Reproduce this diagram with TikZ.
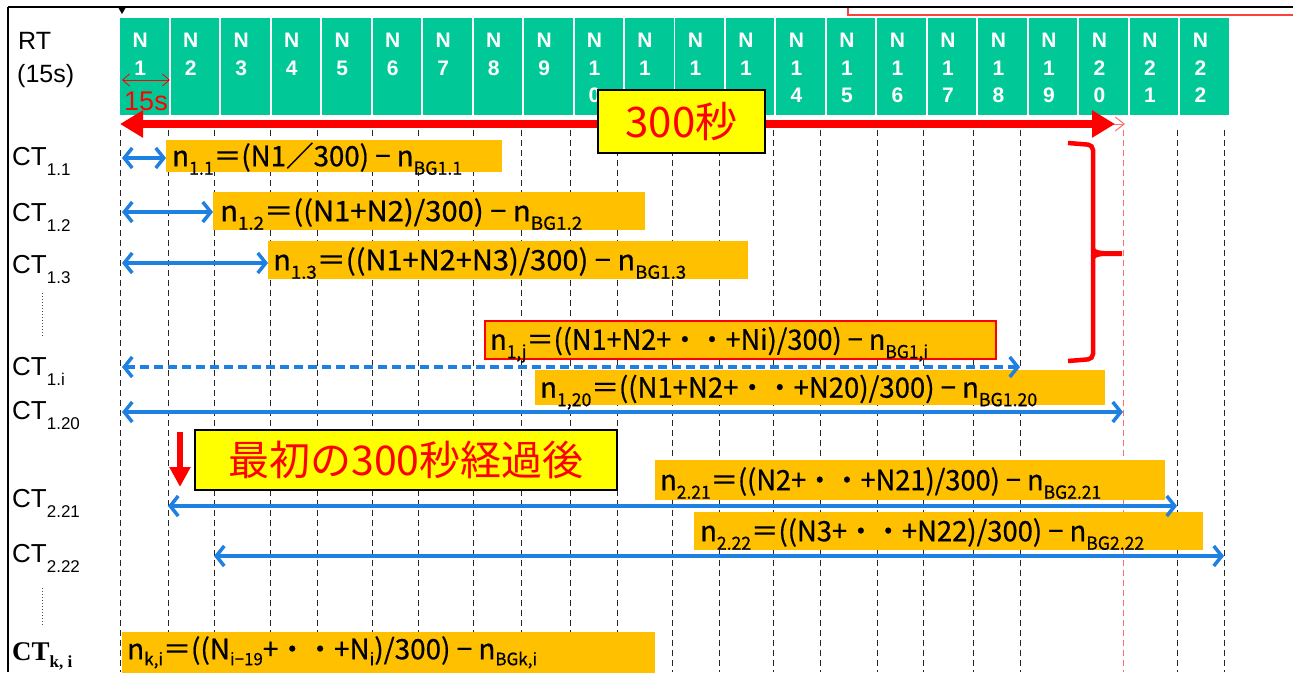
\documentclass[tikz,border=0pt]{standalone}
\usepackage{fontspec}
\usepackage{graphicx}
\setmainfont{Liberation Sans}
\newfontfamily\jp{Noto Sans CJK JP}
\newfontfamily\jpf{Noto Sans CJK JP}[FakeBold=0.6]
\newfontfamily\tnr{Liberation Serif}
\usetikzlibrary{arrows.meta}
\definecolor{cellgreen}{RGB}{0,201,151}
\definecolor{fbg}{RGB}{255,192,0}
\definecolor{arrblue}{RGB}{30,128,224}
\definecolor{pinkred}{RGB}{255,110,110}
\definecolor{ylw}{RGB}{255,255,0}
\newlength\fwlen
\newcommand\fitw[2]{\settowidth\fwlen{#2}\pgfmathsetmacro\fwfac{#1/\fwlen}\scalebox{\fwfac}[1]{#2}}
\newcommand\fsub[1]{\raisebox{-8.5pt}{\fontsize{18}{18}\selectfont #1}}
\newcommand\fsubb[1]{\raisebox{-6pt}{\fontsize{17}{17}\selectfont #1}}
\newcommand\ctsub[1]{\raisebox{-9.5pt}{\fontsize{17}{17}\selectfont #1}}
\begin{document}
\begin{tikzpicture}[x=1pt,y=-1pt,
  cell/.style={fill=cellgreen, draw=none, inner sep=0pt, minimum width=48.5pt, minimum height=97pt, anchor=north west},
  ctext/.style={text=white, font=\bfseries\fontsize{21}{21}\selectfont, inner sep=0pt, text height=15pt, text depth=0pt},
  gridline/.style={black!85, line width=0.9pt, dash pattern=on 6pt off 4pt},
  fbox/.style={fill=fbg, draw=none, inner sep=0pt, anchor=north west},
  ftext/.style={font=\jpf\fontsize{28}{28}\selectfont, inner sep=0pt, anchor=west, text height=20pt, text depth=0pt},
  ctlab/.style={font=\fontsize{26}{26}\selectfont, inner sep=0pt, anchor=west, text height=19pt, text depth=0pt},
  barrow/.style={arrblue, line width=3.5pt, {Straight Barb[length=8pt,width=20pt]}-{Straight Barb[length=8pt,width=20pt]}},
  ybox/.style={fill=ylw, draw=black, line width=2pt, inner sep=0pt, text=red, font=\jp\fontsize{42}{42}\selectfont}
]
\useasboundingbox (0,0) rectangle (1293,672);
\fill[white] (0,0) rectangle (1293,672);

% frame
\draw[line width=1.6pt] (8,7) -- (1293,7);
\draw[line width=1.2pt] (8,7) -- (8,672);
\draw[red!75, line width=1.2pt] (848,8) -- (848,15) -- (1293,15);
\fill (118.5,8) -- (125.5,8) -- (122,14) -- cycle;

% grid
\foreach \x in {120,168,214,270,317,372,418,473,521,570,617,672,719,773,820,877,923,973,1020,1177,1224}
  \draw[gridline] (\x,130) -- (\x,672);
\draw[pinkred, line width=0.9pt, dash pattern=on 6pt off 4pt] (1123,130) -- (1123,672);

% cells
\foreach \i in {1,...,22}{
  \pgfmathsetmacro\lx{120+50.48*(\i-1)}
  \pgfmathsetmacro\tx{\lx+24.25-4}
  \pgfmathtruncatemacro\da{int(\i/10)}
  \pgfmathtruncatemacro\db{mod(\i,10)}
  \node[cell] (c\i) at (\lx,18) {};
  \node[ctext] (c\i a) at (\tx,40) {N};
  \ifnum\i<10
    \node[ctext] (c\i b) at (\tx,68) {\i};
  \else
    \node[ctext] (c\i b) at (\tx,68) {\da};
    \ifnum\i>13 \node[ctext] (c\i c) at (\tx,95) {\db};\fi
    \ifnum\i=10 \node[ctext] (c\i c) at (\tx,95) {\db};\fi
  \fi
}

% RT labels
\node[font=\fontsize{25}{25}\selectfont, inner sep=0pt, anchor=west, text height=18pt, text depth=0pt] (rt) at (18,40) {RT};
\node[font=\fontsize{25}{25}\selectfont, inner sep=0pt, anchor=west, text height=18pt, text depth=0pt] (rt15) at (17,73) {(15s)};

% 15s arrow
\coordinate (s0) at (122,80);
\coordinate (s1) at (170,80);
\draw[red, line width=0.8pt, {Straight Barb[length=7pt,width=12pt]}-{Straight Barb[length=7pt,width=12pt]}] (s0) -- (s1);
\node[red, font=\fontsize{27}{27}\selectfont, inner sep=0pt, text height=19pt, text depth=0pt] (s15) at (146,101) {15s};

% 300 s arrow
\coordinate (rL) at (120,124);
\coordinate (rR) at (1115,124);
\coordinate (rC0) at (1104,124);
\coordinate (rC) at (1125,124);
\draw[pinkred, line width=1pt, -{Straight Barb[length=9pt,width=14pt]}] (rC0) -- (rC);
\draw[red, line width=8pt, {Triangle[length=23pt,width=26pt]}-{Triangle[length=23pt,width=26pt]}] (rL) -- (rR);
\node[ybox, minimum width=167pt, minimum height=63pt] (b300) at (681.5,121.5) {300秒};

% formula boxes
\node[fbox, minimum width=336pt, minimum height=32pt] (bx1) at (166,140) {};
\node[ftext] (f1) at ([xshift=6pt]bx1.west) {\fitw{290}{n\fsub{1.1}＝(N1／300) − n\fsub{BG1.1}}};
\node[fbox, minimum width=432pt, minimum height=38pt] (bx2) at (213,192) {};
\node[ftext] (f2) at ([xshift=7pt]bx2.west) {\fitw{362}{n\fsub{1.2}＝((N1+N2)/300) − n\fsub{BG1.2}}};
\node[fbox, minimum width=480pt, minimum height=38pt] (bx3) at (268,241) {};
\node[ftext] (f3) at ([xshift=5pt]bx3.west) {\fitw{413}{n\fsub{1.3}＝((N1+N2+N3)/300) − n\fsub{BG1.3}}};
\node[fbox, draw=red, line width=1.5pt, minimum width=511pt, minimum height=38pt] (bx4) at (484,320) {};
\node[ftext] (f4) at ([xshift=6pt]bx4.west) {\fitw{438}{n\fsub{1,j}＝((N1+N2+・・+Ni)/300) − n\fsub{BG1,i}}};
\node[fbox, minimum width=570pt, minimum height=35pt] (bx5) at (535,370) {};
\node[ftext] (f5) at ([xshift=5pt]bx5.west) {\fitw{497}{n\fsub{1,20}＝((N1+N2+・・+N20)/300) − n\fsub{BG1.20}}};
\node[fbox, minimum width=510pt, minimum height=40pt] (bx6) at (655,460) {};
\node[ftext] (f6) at ([xshift=5pt]bx6.west) {\fitw{441}{n\fsub{2.21}＝((N2+・・+N21)/300) − n\fsub{BG2.21}}};
\node[fbox, minimum width=509pt, minimum height=38pt] (bx7) at (694,512) {};
\node[ftext] (f7) at ([xshift=6pt]bx7.west) {\fitw{444}{n\fsub{2.22}＝((N3+・・+N22)/300) − n\fsub{BG2.22}}};
\node[fbox, minimum width=533pt, minimum height=42pt] (bx8) at (122,632) {};
\node[ftext] (f8) at ([xshift=5pt,yshift=4pt]bx8.west) {\fitw{410}{n\fsubb{k,i}＝((N\fsubb{i−19}+・・+N\fsubb{i})/300) − n\fsubb{BGk,i}}};

% blue arrows
\coordinate (a1s) at (122,158);  \coordinate (a1e) at (166,158);
\coordinate (a2s) at (122,212);  \coordinate (a2e) at (213,212);
\coordinate (a3s) at (122,263);  \coordinate (a3e) at (268,263);
\coordinate (ais) at (122,367);  \coordinate (aie) at (1020,367);
\coordinate (a20s) at (122,412); \coordinate (a20e) at (1123,412);
\coordinate (a21s) at (168,506); \coordinate (a21e) at (1177,506);
\coordinate (a22s) at (214,556); \coordinate (a22e) at (1224,556);
\draw[barrow] (a1s) -- (a1e);
\draw[barrow] (a2s) -- (a2e);
\draw[barrow] (a3s) -- (a3e);
\draw[barrow, dash pattern=on 9pt off 5pt] (ais) -- (aie);
\draw[barrow] (a20s) -- (a20e);
\draw[barrow] (a21s) -- (a21e);
\draw[barrow] (a22s) -- (a22e);

% brace
\coordinate (br1) at (1068,143);
\coordinate (br2) at (1068,361);
\draw[red, line width=4.5pt, rounded corners=5pt] (br1) -- (1093,145) -- (1093,359) -- (br2);
\fill[red] (1093,243) .. controls (1095,250) .. (1104,251) -- (1122,251) -- (1122,256) -- (1104,256) .. controls (1095,257) .. (1093,264) -- cycle;

% after 300 s
\coordinate (d0) at (180,432);
\coordinate (d1) at (180,487);
\draw[red, line width=6pt, -{Triangle[length=20pt,width=20pt]}] (d0) -- (d1);
\node[ybox, minimum width=422pt, minimum height=60pt, font=\jp\fontsize{41}{41}\selectfont] (b300b) at (406,460) {最初の300秒経過後};

% CT labels
\node[ctlab] (ct11) at (12,156) {CT\ctsub{1.1}};
\node[ctlab] (ct12) at (12,212) {CT\ctsub{1.2}};
\node[ctlab] (ct13) at (12,264) {CT\ctsub{1.3}};
\node[ctlab] (ct1i) at (12,366) {CT\ctsub{1.i}};
\node[ctlab] (ct120) at (12,410) {CT\ctsub{1.20}};
\node[ctlab] (ct221) at (12,498) {CT\ctsub{2.21}};
\node[ctlab] (ct222) at (12,553) {CT\ctsub{2.22}};
\node[ctlab, font=\tnr\bfseries\fontsize{27}{27}\selectfont, text height=17pt] (ctk) at (12,652) {CT\raisebox{-7pt}{\fontsize{17}{17}\selectfont k, i}};
\draw[black!70, line width=1pt, dotted] (42,293) -- (42,337);
\draw[black!70, line width=1pt, dotted] (42,588) -- (42,626);
\end{tikzpicture}
\end{document}
